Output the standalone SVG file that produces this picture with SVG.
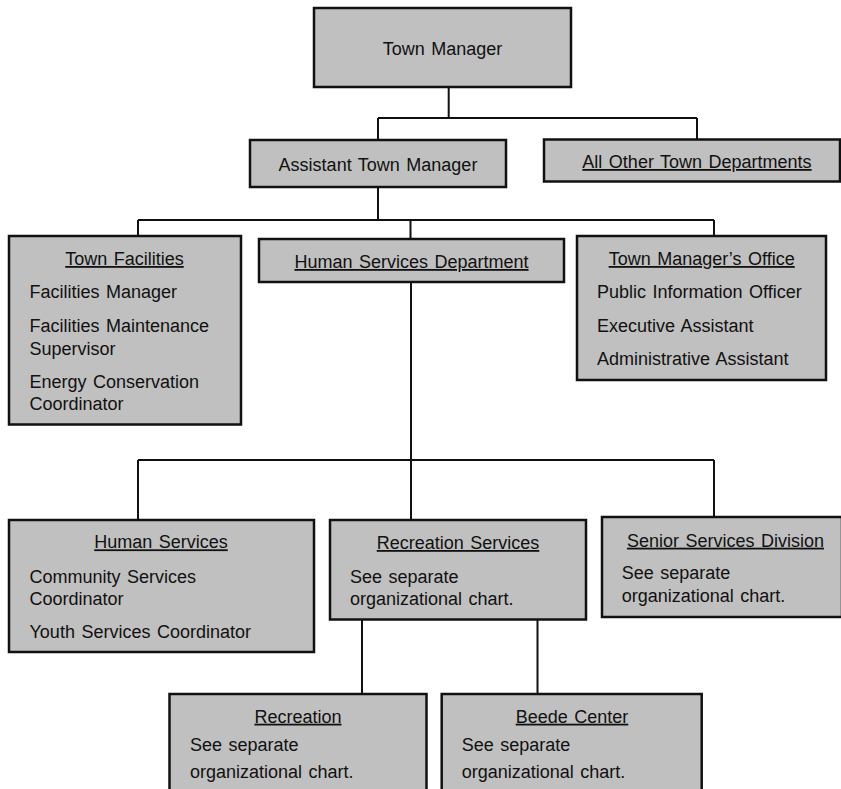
<svg xmlns="http://www.w3.org/2000/svg" width="841" height="789" viewBox="0 0 841 789">
  <style>
    .box { fill: #c0c0c0; stroke: #111; stroke-width: 2.5; }
    .wire { fill: none; stroke: #111; stroke-width: 2; }
    text { font-family: "Liberation Sans", Arial, sans-serif; font-size: 18px; fill: #111; word-spacing: 1.5px; }
    .c { text-anchor: middle; }
    .u { text-decoration: underline; }
  </style>
  <rect width="841" height="789" fill="#fff"/>

  <g id="connectors">
    <path class="wire" d="M448.7 87 V118 M378 118 H697 M378 118 V140 M697 118 V139.5"/>
    <path class="wire" d="M378 187 V220 M138 220 H714 M138 220 V236 M410.5 220 V239 M714 220 V236"/>
    <path class="wire" d="M411 282 V520 M138 460 H714 M138 460 V520 M714 460 V517"/>
    <path class="wire" d="M362 619.5 V694 M537.5 619.5 V694"/>
  </g>

  <g id="town-manager">
    <rect class="box" x="314" y="8" width="257" height="79"/>
    <text class="c" x="442.5" y="55">Town Manager</text>
  </g>

  <g id="assistant-town-manager">
    <rect class="box" x="250" y="140" width="256" height="47"/>
    <text class="c" x="378" y="171">Assistant Town Manager</text>
  </g>

  <g id="all-other-departments">
    <rect class="box" x="544" y="139.5" width="296" height="42"/>
    <text class="c u" x="697" y="168">All Other Town Departments</text>
  </g>

  <g id="town-facilities">
    <rect class="box" x="9" y="236" width="232" height="188.5"/>
    <text class="c u" x="124.5" y="265">Town Facilities</text>
    <text x="29.5" y="298">Facilities Manager</text>
    <text x="29.5" y="331.7">Facilities Maintenance</text>
    <text x="29.5" y="354.5">Supervisor</text>
    <text x="29.5" y="388">Energy Conservation</text>
    <text x="29.5" y="410">Coordinator</text>
  </g>

  <g id="human-services-department">
    <rect class="box" x="259" y="239" width="305" height="43"/>
    <text class="c u" x="411.5" y="268">Human Services Department</text>
  </g>

  <g id="town-managers-office">
    <rect class="box" x="577" y="236" width="249" height="144"/>
    <text class="c u" x="701.7" y="265">Town Manager’s Office</text>
    <text x="597" y="298">Public Information Officer</text>
    <text x="597" y="331.7">Executive Assistant</text>
    <text x="597" y="365">Administrative Assistant</text>
  </g>

  <g id="human-services">
    <rect class="box" x="9" y="520" width="305" height="132"/>
    <text class="c u" x="161" y="548.3">Human Services</text>
    <text x="29.5" y="582.7">Community Services</text>
    <text x="29.5" y="605">Coordinator</text>
    <text x="29.5" y="638.3">Youth Services Coordinator</text>
  </g>

  <g id="recreation-services">
    <rect class="box" x="330" y="520" width="256" height="99.5"/>
    <text class="c u" x="458" y="549">Recreation Services</text>
    <text x="350" y="583">See separate</text>
    <text x="350" y="605">organizational chart.</text>
  </g>

  <g id="senior-services">
    <rect class="box" x="602" y="517" width="240" height="100"/>
    <text class="c u" x="725.5" y="546.7">Senior Services Division</text>
    <text x="621.7" y="579.3">See separate</text>
    <text x="621.7" y="601.7">organizational chart.</text>
  </g>

  <g id="recreation">
    <rect class="box" x="169.5" y="694" width="257" height="110"/>
    <text class="c u" x="298" y="722.7">Recreation</text>
    <text x="190" y="751">See separate</text>
    <text x="190" y="777.7">organizational chart.</text>
  </g>

  <g id="beede-center">
    <rect class="box" x="441.7" y="694" width="260" height="110"/>
    <text class="c u" x="572" y="722.7">Beede Center</text>
    <text x="461.7" y="751">See separate</text>
    <text x="461.7" y="777.7">organizational chart.</text>
  </g>
</svg>
